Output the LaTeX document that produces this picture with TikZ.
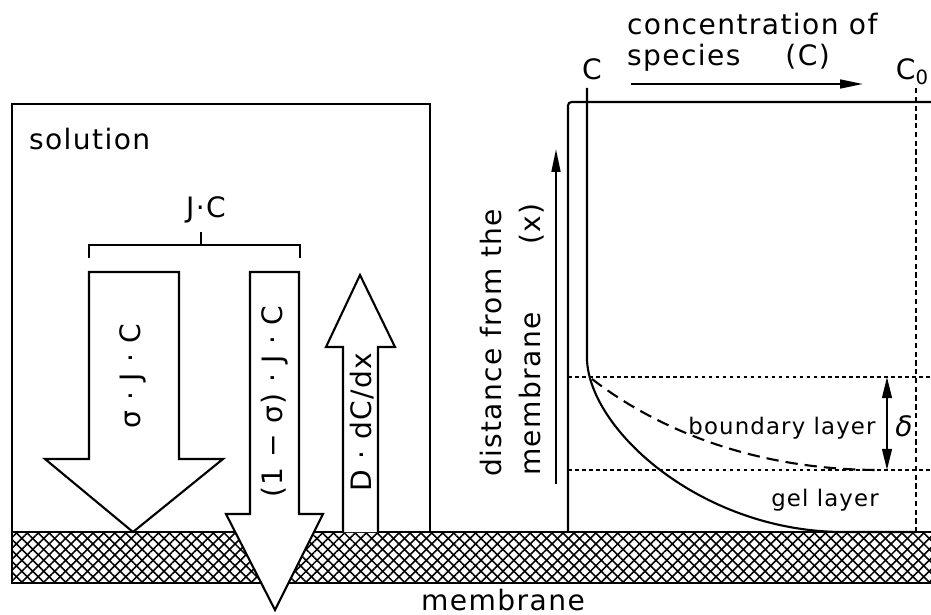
\documentclass[tikz,border=0pt]{standalone}
\usepackage{fontspec}
\setmainfont{DejaVu Sans}[LetterSpace=5]
\usetikzlibrary{arrows.meta,patterns.meta}

\begin{document}
\begin{tikzpicture}[x=0.02cm,y=-0.02cm,
   line width=1.2pt,
   txt/.style={font=\fontsize{16}{18}\selectfont,inner sep=0pt},
   smalltxt/.style={font=\fontsize{13}{15}\selectfont,inner sep=0pt},
   vtxt/.style={txt,rotate=90},
   flux/.style={draw,fill=white,line join=miter},
   guide/.style={line width=0.9pt,dash pattern=on 2pt off 2pt},
   arr/.style={-{Triangle[length=13pt,width=5pt]}},
   dblarr/.style={{Triangle[length=12pt,width=5.5pt]}-{Triangle[length=12pt,width=5.5pt]}},
   hatchne/.style={pattern={Lines[angle=45,distance=4.4pt,line width=0.9pt]}},
   hatchnw/.style={pattern={Lines[angle=-45,distance=4.4pt,line width=0.9pt]}}
]
   \useasboundingbox (0,0) rectangle (931,615);

   % membrane
   \fill[hatchne] (12,532) rectangle (931,583);
   \fill[hatchnw] (12,532) rectangle (931,583);
   \draw (931,532) -- (12,532) -- (12,583) -- (931,583);
   \node[txt,anchor=base] (mem) at (503,610) {membrane};

   % solution side
   \draw (12,532) -- (12,104) -- (430,104) -- (430,532);
   \node[txt,anchor=base west] (sol) at (28,150) {solution};
   \node[txt,anchor=base] (jc) at (206,218) {J·C};
   \draw (89,258) -- (89,245) -- (300,245) -- (300,258);
   \draw (201,245) -- (201,232);

   \draw[flux] (89,272) -- (179,272) -- (179,459) -- (223,459) -- (133,532)
      -- (45,459) -- (89,459) -- cycle;
   \draw[flux] (250,272) -- (299,272) -- (299,514) -- (323,514) -- (275,610)
      -- (226,514) -- (250,514) -- cycle;
   \draw[flux] (343,532) -- (343,347) -- (326,347) -- (360,275) -- (395,347)
      -- (378,347) -- (378,532);
   \node[vtxt] (f1) at (133,376) {σ · J · C};
   \node[vtxt] (f2) at (275,402) {(1 − σ) · J · C};
   \node[vtxt] (f3) at (362,422) {D · dC/dx};

   % concentration profile
   \draw[rounded corners=2pt] (568,532) -- (568,102) -- (931,102);
   \draw (587,88) -- (587,360) .. controls (590,430) and (700,530) .. (840,532)
      -- (916,532);
   \draw[dash pattern=on 7pt off 4pt] (592,379) .. controls (645,420) and (740,470) .. (880,470);
   \draw[guide] (568,377) -- (931,377);
   \draw[guide] (568,470) -- (931,470);
   \draw[guide,dash pattern=on 3pt off 2pt] (916,88) -- (916,532);

   \node[txt,anchor=base] (c) at (592,80) {C};
   \node[txt,anchor=base east] (c0) at (930,80) {C\textsubscript{0}};
   \node[txt,anchor=base west] (con1) at (626,35) {concentration of};
   \node[txt,anchor=base west] (con2) at (626,66) {species\hspace{1.6em}(C)};
   \coordinate (ca) at (631,84);
   \coordinate (cb) at (863,84);
   \draw[arr] (ca) -- (cb);

   \node[vtxt,anchor=base west] (dist1) at (501,478) {distance from the};
   \node[vtxt,anchor=base west] (dist2) at (540,477) {membrane\hspace{2.4em}(x)};
   \coordinate (xa) at (556,484);
   \coordinate (xb) at (556,149);
   \draw[arr] (xa) -- (xb);

   \coordinate (dtop) at (887,377);
   \coordinate (dbot) at (887,470);
   \draw[dblarr] (dtop) -- (dbot);
   \node[txt,anchor=center] (delta) at (904,426) {\itshape δ};
   \node[smalltxt] (bl) at (782,428) {boundary layer};
   \node[smalltxt] (gl) at (825,500) {gel layer};
\end{tikzpicture}
\end{document}
